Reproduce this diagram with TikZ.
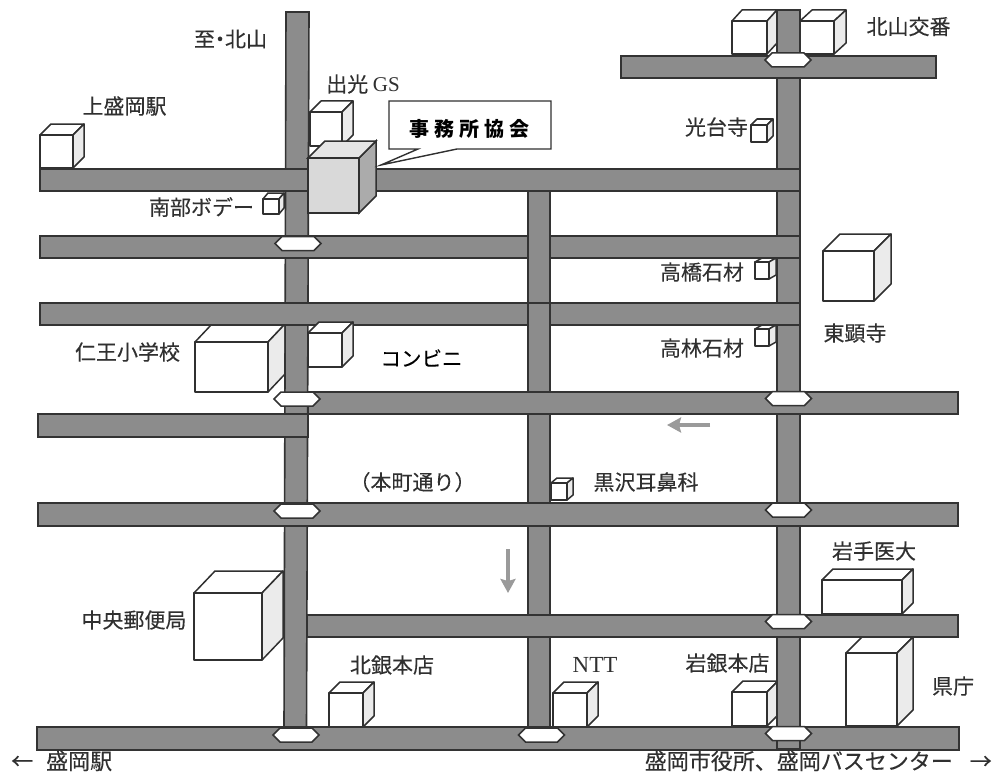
\documentclass[tikz,border=0pt]{standalone}
\usepackage{fontspec}
\usetikzlibrary{arrows.meta}
\newfontfamily\jp[FakeBold=0.25]{Noto Sans CJK JP}
\newfontfamily\jpbold{Noto Sans CJK JP}
\newfontfamily\sr{Liberation Serif}
\definecolor{roadfill}{HTML}{8C8C8C}
\definecolor{roadline}{HTML}{333333}
\definecolor{cubeline}{HTML}{303030}
\definecolor{cubeside}{HTML}{EBEBEB}
\definecolor{txt}{HTML}{303030}
\definecolor{arrowgrey}{HTML}{9A9A9A}
\tikzset{
  road/.style={draw=roadline,fill=roadfill,line width=1.6pt,line join=miter},
  roadedge/.style={draw=roadline,line width=1.6pt},
  hexa/.style={draw=roadline,fill=white,line width=1.5pt},
  cubeface/.style={draw=cubeline,fill=white,line width=1.5pt,line join=round},
  cubeshade/.style={draw=cubeline,fill=cubeside,line width=1.5pt,line join=round},
  lab/.style={inner sep=0pt,text=txt,font=\jp\fontsize{21}{25}\selectfont},
  labwide/.style={inner sep=0pt,text=txt,font=\jp\fontsize{22}{25}\selectfont},
  labblack/.style={inner sep=0pt,text=black,font=\jp\fontsize{20.5}{25}\selectfont},
  labbold/.style={inner sep=0pt,text=black,font=\jpbold\bfseries\fontsize{20}{25}\selectfont},
  flowarrow/.style={draw=arrowgrey,line width=3.5pt,-{Stealth[length=14pt,width=15pt,inset=2pt]}}
}
% #1,#2 front top-left; #3,#4 front bottom-right; #5,#6 depth offset
\newcommand{\cubebox}[6]{%
  \path[cubeface] (#1,#2) -- ++(#5,-#6) -- ({#3+#5},{#2-#6}) -- (#3,#2) -- cycle;
  \path[cubeshade] (#3,#2) -- ({#3+#5},{#2-#6}) -- ({#3+#5},{#4-#6}) -- (#3,#4) -- cycle;
  \path[cubeface] (#1,#2) rectangle (#3,#4);
}
\newcommand{\hexat}[2]{%
  \path[hexa] ({#1-23},#2) -- ({#1-16},{#2-7}) -- ({#1+16},{#2-7}) -- ({#1+23},#2)
     -- ({#1+16},{#2+7}) -- ({#1-16},{#2+7}) -- cycle;
}
\begin{document}
\begin{tikzpicture}[x=1pt,y=-1pt]
\useasboundingbox (0,0) rectangle (992,773);
% buildings behind the roads
\cubebox{40}{135}{73}{168}{11}{11}
\cubebox{310}{112}{342}{146}{11}{11}
\cubebox{263}{199}{279}{214}{5}{6}
\cubebox{732}{21}{767}{54}{10}{11}
\cubebox{800}{21}{834}{54}{12}{11}
\cubebox{751}{125}{767}{142}{6}{6}
\cubebox{823}{251}{874}{301}{17}{17}
\cubebox{755}{262}{769}{279}{7}{4}
\cubebox{755}{329}{769}{346}{7}{4}
\cubebox{195}{342}{268}{392}{17}{18}
\cubebox{194}{593}{262}{660}{21}{22}
\cubebox{329}{693}{363}{727}{11}{11}
\cubebox{553}{693}{587}{727}{11}{11}
\cubebox{732}{692}{767}{726}{11}{11}
\cubebox{822}{580}{902}{614}{11}{11}
\cubebox{846}{653}{897}{726}{16}{16}
\cubebox{551}{483}{567}{500}{6}{5}
% roads, lowest first
\path[road] (37,727) rectangle (959,750);
\path[road] (777,10) rectangle (800,749);
\path[road] (286,12) -- (309,12) -- (306.5,727) -- (284,727) -- cycle;
\path[road] (621,56) rectangle (936,78);
\path[road] (40,236) rectangle (800,258);
\path[road] (40,303) rectangle (800,325);
\path[road] (528,191) rectangle (550,727);
\draw[roadedge] (528,303) -- (550,303);
\path[road] (40,169) rectangle (308,191);
\path[road] (370,169) rectangle (800,191);
\path[road] (38,414) rectangle (308,437);
\path[road] (308,392) rectangle (958,414);
\path[road] (38,503) rectangle (958,526);
\path[road] (307,615) rectangle (958,637);
% crossing marks
\hexat{298}{243.5}
\hexat{297}{399}
\hexat{297}{511}
\hexat{296}{735}
\hexat{541.5}{735}
\hexat{788.5}{733.5}
\hexat{788.5}{621.5}
\hexat{788.5}{510}
\hexat{788.5}{398.5}
\hexat{788}{60}
% buildings in front of the roads
\cubebox{308}{333}{342}{367}{11}{11}
\path[draw=cubeline,line width=1.5pt,fill=black!33] (359,158) -- (376,141) -- (376,196) -- (359,213) -- cycle;
\path[draw=cubeline,line width=1.5pt,fill=black!10] (308,158) -- (325,141) -- (376,141) -- (359,158) -- cycle;
\path[draw=cubeline,line width=1.5pt,fill=black!15] (308,158) rectangle (359,213);
% callout
\path[draw=cubeline,fill=white,line width=1.4pt] (389,101) -- (551,101) -- (551,149) -- (457,149) -- (381,165) -- (418,149) -- (389,149) -- cycle;
\node[labbold] (office) at (469,129) {事\kern5pt 務\kern5pt 所\kern5pt 協\kern5pt 会};
% labels
\node[lab] (kamimorioka) at (124.5,106) {上盛岡駅};
\node[lab] (kitayama) at (230.5,39) {至\kern-5.5pt ・\kern-5.5pt 北山};
\node[lab] (idemitsu) at (363,84) {出光 {\sr GS}};
\node[lab] (nanbu) at (201.5,207) {南部ボデー};
\node[lab] (koban) at (908.5,26.5) {北山交番};
\node[lab] (kodaiji) at (716.5,127) {光台寺};
\node[lab] (takahashi) at (702,272) {高橋石材};
\node[lab] (takabayashi) at (702,348) {高林石材};
\node[lab] (toganji) at (855,333) {東顕寺};
\node[lab] (nio) at (127.5,352) {仁王小学校};
\node[labblack] (konbini) at (421.5,358) {コンビニ};
\node[lab] (honcho) at (412.5,482) {（本町通り）};
\node[lab] (kurosawa) at (646,482) {黒沢耳鼻科};
\node[lab] (iwateidai) at (874,551) {岩手医大};
\node[lab] (yubin) at (134,620) {中央郵便局};
\node[lab] (hokugin) at (392,665) {北銀本店};
\node[inner sep=0pt,text=txt,font=\sr\fontsize{23}{25}\selectfont] (ntt) at (595,665) {NTT};
\node[lab] (gangin) at (727.5,663) {岩銀本店};
\node[lab] (kencho) at (953,686) {県庁};
\node[labwide,anchor=west] (morioka) at (11,761) {←\kern13pt 盛岡駅};
\node[labwide,anchor=east] (shiyakusho) at (992,761) {盛岡市役所、盛岡バスセンター\kern17pt →};
% traffic direction arrows
\coordinate (eastend) at (710,425);
\coordinate (westend) at (667,425);
\coordinate (northend) at (508,549);
\coordinate (southend) at (508,593);
\draw[flowarrow] (eastend) -- (westend);
\draw[flowarrow] (northend) -- (southend);
\end{tikzpicture}
\end{document}
